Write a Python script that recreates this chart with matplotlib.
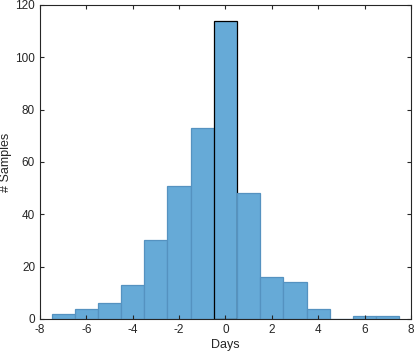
import matplotlib
matplotlib.use("Agg")
import matplotlib.pyplot as plt
import numpy as np

# histogram bins (width 1 day), centres and counts
bin_centers = [-7, -6, -5, -4, -3, -2, -1, 0, 1, 2, 3, 4, 5, 6, 7]
counts = [2, 4, 6, 13, 30, 51, 73, 114, 48, 16, 14, 4, 0, 1, 1]
x_ticks = [-8, -6, -4, -2, 0, 2, 4, 6, 8]
y_ticks = [0, 20, 40, 60, 80, 100, 120]

plt.rcParams['font.family'] = ['Liberation Sans', 'DejaVu Sans']
plt.rcParams['axes.unicode_minus'] = False

fig = plt.figure(figsize=(4.16, 3.56), dpi=100)
ax = fig.add_axes([0.096, 0.104, 0.892, 0.882])

face = '#66aad7'
edges = ['#5592c0'] * len(bin_centers)
edges[bin_centers.index(0)] = 'black'
ax.bar(bin_centers, counts, width=1.0, color=face, edgecolor=edges,
       linewidth=0.9)

ax.set_xlim(-8, 8)
ax.set_ylim(0, 120)
ax.set_xticks(x_ticks)
ax.set_yticks(y_ticks)
ax.tick_params(direction='in', top=True, right=True, labelsize=8.5,
               length=3, width=0.8, colors='#262626', labelcolor='#262626')
for s in ax.spines.values():
    s.set_linewidth(0.8)
    s.set_color('#262626')

ax.set_xlabel("Days", fontsize=9, color='#262626', labelpad=2)
ax.set_ylabel("# Samples", fontsize=9, color='#262626', labelpad=2)

fig.savefig("out.png", dpi=100)
